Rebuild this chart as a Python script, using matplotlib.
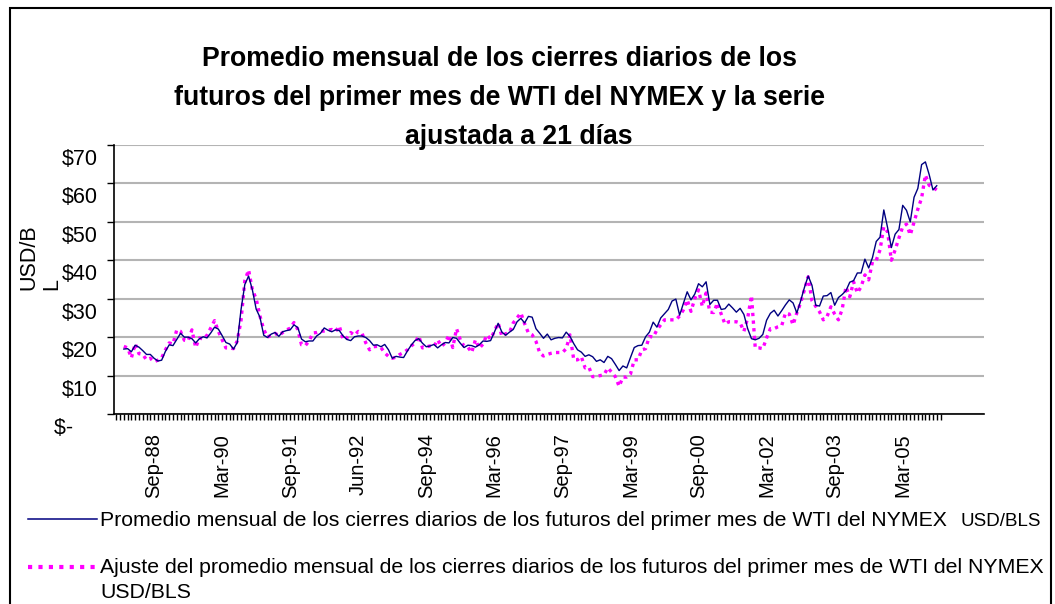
import numpy as np
import matplotlib
matplotlib.use("Agg")
import matplotlib.pyplot as plt
from matplotlib.lines import Line2D
from matplotlib.patches import Rectangle
from matplotlib.transforms import ScaledTranslation

plt.rcParams['font.family'] = ['Liberation Sans', 'DejaVu Sans']

# monthly averages, Jan-88 .. Dec-05 (USD/BLS)
promedio = [
    16.9, 17.0, 16.2, 17.9, 17.4, 16.5, 15.5, 15.5, 14.5, 13.8, 14.0, 16.3,
    18.0, 17.8, 19.4, 21.0, 20.0, 20.0, 19.6, 18.5, 19.6, 20.1, 19.8, 21.1,
    22.6, 22.1, 20.4, 18.6, 18.2, 16.9, 18.6, 27.2, 33.7, 35.9, 32.3, 27.3,
    25.2, 20.5, 19.9, 20.8, 21.2, 20.2, 21.4, 21.7, 21.9, 23.2, 22.5, 19.5,
    18.8, 19.0, 19.0, 20.3, 21.0, 22.4, 21.8, 21.4, 21.9, 21.7, 20.3, 19.4,
    19.1, 20.1, 20.3, 20.3, 19.9, 19.1, 17.9, 18.0, 17.5, 18.1, 16.7, 14.5,
    15.0, 14.8, 14.7, 16.4, 17.9, 19.1, 19.6, 18.4, 17.5, 17.7, 18.1, 17.2,
    18.0, 18.6, 18.5, 19.9, 19.7, 18.4, 17.3, 17.9, 17.8, 17.4, 18.0, 19.0,
    18.9, 19.1, 21.3, 23.6, 21.3, 20.5, 21.3, 22.0, 24.0, 24.9, 23.7, 25.4,
    25.2, 22.2, 21.0, 19.7, 20.8, 19.3, 19.7, 19.9, 19.8, 21.3, 20.2, 18.3,
    16.7, 16.1, 15.0, 15.4, 14.9, 13.7, 14.1, 13.4, 15.0, 14.4, 12.9, 11.3,
    12.5, 12.0, 14.7, 17.3, 17.8, 17.9, 20.1, 21.3, 23.9, 22.6, 25.0, 26.1,
    27.2, 29.4, 29.9, 25.7, 28.8, 31.8, 29.7, 31.2, 33.9, 33.1, 34.4, 28.5,
    29.6, 29.6, 27.2, 27.4, 28.6, 27.6, 26.5, 27.5, 25.9, 22.2, 19.6, 19.3,
    19.7, 20.7, 24.4, 26.2, 27.0, 25.5, 26.9, 28.4, 29.7, 28.9, 26.3, 29.4,
    32.9, 35.9, 33.5, 28.3, 28.1, 30.7, 30.8, 31.6, 28.3, 30.3, 31.1, 32.1,
    34.3, 34.7, 36.7, 36.7, 40.3, 38.0, 40.7, 44.9, 46.0, 53.1, 48.5, 43.3,
    46.8, 48.0, 54.3, 53.0, 50.0, 56.4, 58.7, 64.9, 65.6, 62.3, 58.3, 59.4,
]

# series adjusted to 21 days
ajuste = [
    17.6, 17.2, 14.6, 18.3, 15.7, 15.5, 14.1, 14.5, 13.6, 14.0, 14.6, 16.7,
    18.5, 18.2, 21.9, 21.5, 19.2, 19.0, 21.9, 17.3, 19.8, 19.5, 20.5, 22.4,
    24.3, 21.5, 19.3, 17.2, 17.2, 17.0, 19.0, 24.4, 34.7, 37.5, 32.3, 30.0,
    25.5, 22.0, 20.0, 20.5, 21.0, 20.4, 21.2, 21.9, 22.3, 23.8, 22.0, 18.0,
    17.8, 19.0, 21.1, 21.2, 21.5, 21.6, 21.8, 22.0, 21.5, 22.9, 19.3, 19.8,
    21.2, 20.5, 21.5, 21.0, 18.5, 16.7, 17.5, 17.6, 17.3, 15.9, 15.0, 14.5,
    14.8, 15.5, 16.0, 16.7, 17.7, 18.5, 20.3, 17.2, 17.5, 17.7, 17.5, 19.3,
    17.6, 18.5, 20.6, 17.3, 22.2, 19.3, 17.6, 17.4, 16.0, 19.3, 17.1, 18.2,
    20.6, 19.5, 21.5, 23.7, 20.2, 20.9, 21.2, 23.7, 25.0, 26.3, 23.5, 21.1,
    20.6, 18.9, 15.9, 15.1, 15.5, 15.8, 16.0, 16.0, 16.0, 17.0, 20.6, 14.1,
    14.1, 14.9, 12.0, 12.2, 9.7, 9.8, 10.0, 10.2, 12.0, 10.9, 9.7, 7.2,
    9.6, 9.6, 10.4, 14.1, 14.1, 16.7, 17.0, 20.2, 20.0, 21.9, 23.2, 24.5,
    24.5, 24.5, 24.5, 25.5, 27.1, 29.7, 26.7, 30.0, 32.3, 28.0, 31.5, 26.5,
    26.4, 28.9, 26.0, 23.4, 24.0, 24.0, 24.0, 23.7, 21.5, 25.0, 30.8, 17.2,
    17.2, 17.0, 19.8, 22.2, 22.2, 22.7, 23.0, 26.3, 26.0, 23.2, 26.3, 28.9,
    32.3, 35.7, 29.5, 28.0, 26.6, 24.5, 25.4, 27.9, 26.0, 24.5, 27.3, 33.1,
    30.5, 34.4, 31.5, 33.1, 36.2, 34.9, 39.6, 40.0, 42.7, 48.7, 47.4, 40.0,
    42.7, 45.8, 48.7, 49.4, 46.6, 50.0, 53.3, 56.2, 62.2, 59.5, 59.0, 58.3,
]

etiquetas = ['Sep-88', 'Mar-90', 'Sep-91', 'Jun-92', 'Sep-94', 'Mar-96',
             'Sep-97', 'Mar-99', 'Sep-00', 'Mar-02', 'Sep-03', 'Mar-05']
pos_etiquetas = [8 + 18 * k for k in range(len(etiquetas))]

y_ticks = [0, 10, 20, 30, 40, 50, 60, 70]
y_labels = ['$-    ', '$10', '$20', '$30', '$40', '$50', '$60', '$70']

W, H = 1055, 604
fig = plt.figure(figsize=(W / 100, H / 100), dpi=100)
ax = fig.add_axes([114 / W, 1 - 414 / H, (984 - 114) / W, (414 - 145) / H])

x = np.arange(len(promedio))
ax.plot(x, promedio, color='#000080', lw=1.0, zorder=3)
ax.plot(x, ajuste, color='#FF00FF', lw=2.4, ls=(0, (1.0, 1.3)), zorder=2)

ax.set_xlim(-2.6, 227.5)
ax.set_ylim(0, 70)

ax.set_yticks(y_ticks)
ax.set_yticklabels(y_labels, fontsize=15.5)
ax.yaxis.grid(True, color='#b4b4b4', lw=1.5)
ax.set_axisbelow(True)
ax.tick_params(axis='y', length=5, width=1, pad=7, colors='black')
off = ScaledTranslation(0, -12 / 100, fig.dpi_scale_trans)
for lab in ax.get_yticklabels():
    lab.set_transform(lab.get_transform() + off)

ax.set_xticks(pos_etiquetas)
ax.set_xticklabels(etiquetas, rotation=90, fontsize=14.5, va='top', ha='center')
ax.set_xticks(np.arange(-2, 217), minor=True)
ax.tick_params(axis='x', which='both', length=4, width=1, pad=10)

for s in ['top', 'right']:
    ax.spines[s].set_visible(False)
ax.spines['left'].set_linewidth(1.2)
ax.spines['bottom'].set_linewidth(1.2)

ax.set_ylabel('USD/B\nL', fontsize=15.5, multialignment='left', linespacing=1.1)
ax.yaxis.set_label_coords(-52 / (984 - 114), 0.582)

# title
fig.text(500 / W, 1 - 66 / H, 'Promedio mensual de los cierres diarios de los',
         ha='center', va='baseline', fontsize=19.2, fontweight='bold')
fig.text(500 / W, 1 - 105 / H, 'futuros del primer mes de WTI del NYMEX y la serie',
         ha='center', va='baseline', fontsize=19.2, fontweight='bold')
fig.text(519 / W, 1 - 144 / H, 'ajustada a 21 días',
         ha='center', va='baseline', fontsize=19.2, fontweight='bold')

# legend
fig.add_artist(Line2D([28 / W, 97 / W], [1 - 519 / H] * 2, color='#000080', lw=1.1))
fig.add_artist(Line2D([28 / W, 97 / W], [1 - 567 / H] * 2, color='#FF00FF', lw=3,
                      ls=(0, (1.0, 1.5))))
fig.text(100 / W, 1 - 526 / H,
         'Promedio mensual de los cierres diarios de los futuros del primer mes de WTI del NYMEX',
         ha='left', va='baseline', fontsize=15.3)
fig.text(961 / W, 1 - 526 / H, 'USD/BLS', ha='left', va='baseline', fontsize=13.5)
fig.text(100 / W, 1 - 573 / H,
         'Ajuste del promedio mensual de los cierres diarios de los futuros del primer mes de WTI del NYMEX',
         ha='left', va='baseline', fontsize=15.3)
fig.text(100 / W, 1 - 598 / H, 'USD/BLS', ha='left', va='baseline', fontsize=15.3)

# chart border
fig.add_artist(Rectangle((10 / W, -0.01), (1051 - 10) / W, 1 - 8 / H + 0.01,
                         fill=False, edgecolor='black', lw=1.5, transform=fig.transFigure))

fig.savefig('out.png', dpi=100)
